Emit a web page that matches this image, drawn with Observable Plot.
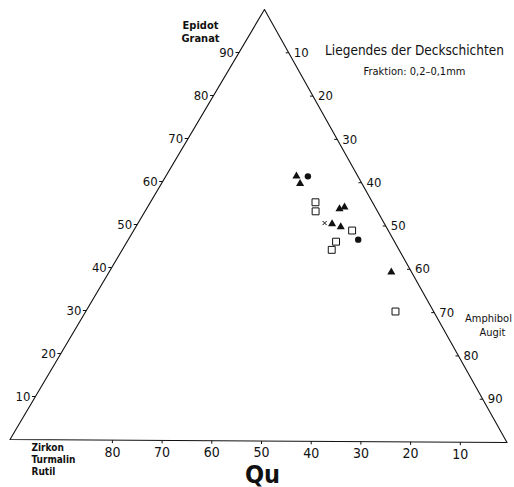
<!DOCTYPE html>
<html>
<head>
<meta charset="utf-8">
<script src="https://cdn.jsdelivr.net/npm/d3@7"></script>
<script src="https://cdn.jsdelivr.net/npm/@observablehq/plot@0.6"></script>
<style>
  html, body { margin: 0; padding: 0; background: #fff; }
  svg { display: block; }
</style>
</head>
<body>
<div id="chart"></div>
<script>
// ---- data (ternary percentages) ----
// T = Epidot/Granat (top), R = Amphibol/Augit (right), L = Zirkon/Turmalin/Rutil (left)
const sampleType = ["triangle","circle","triangle","square","square","triangle","triangle","cross",
                    "triangle","triangle","square","circle","square","square","triangle","square"];
const epidot   = [61.4, 61.4, 59.7, 55.4, 53.3, 53.9, 54.3, 50.6, 50.4, 49.7, 48.9, 46.8, 46.3, 44.4, 39.3, 30.2];
const amphibol = [26.2, 28.5, 27.8, 33.1, 34.2, 38.7, 39.5, 37.4, 39.0, 41.1, 43.8, 46.1, 41.9, 42.0, 56.6, 62.1];

const sideTicks   = [10, 20, 30, 40, 50, 60, 70, 80, 90];
const bottomTicks = [80, 70, 60, 50, 40, 30, 20, 10];

const vertexT = [100, 0, 0, 100];
const vertexR = [0, 0, 100, 0];

// ---- ternary projection (slight skew as in the drawing) ----
const px = (T, R) => R + 0.512 * T;
const py = (T, R) => T - 0.007 * R;

const samples = epidot.map((T, i) => ({ T, R: amphibol[i], type: sampleType[i] }));
const outline = vertexT.map((T, i) => ({ T, R: vertexR[i] }));

const font = "'DejaVu Sans Condensed', 'DejaVu Sans', sans-serif";
const narrow = "'Liberation Sans Narrow', 'DejaVu Sans Condensed', sans-serif";
const ink = "#111";

const pick = t => samples.filter(d => d.type === t);

const note = (label, dx, dy, opts = {}) =>
  Plot.text([label], { frameAnchor: "top-left", dx, dy, text: d => d, lineAnchor: "middle",
                       textAnchor: "middle", fontSize: 11, fill: ink, ...opts });

const chart = Plot.plot({
  width: 514,
  height: 487,
  margin: 0,
  style: { fontFamily: font, color: ink, background: "#fff" },
  x: { domain: [0, 100], range: [9.5, 506.5], axis: null },
  y: { domain: [0, 100], range: [439, 9], axis: null },
  marks: [
    // triangle outline
    Plot.line(outline, { x: d => px(d.T, d.R), y: d => py(d.T, d.R), stroke: ink, strokeWidth: 1.1 }),

    // left side ticks (Epidot / Granat)
    Plot.link(sideTicks, { x1: v => px(v, 0), y1: v => py(v, 0), x2: v => px(v, 0) - 0.7, y2: v => py(v, 0), stroke: ink, strokeWidth: 1 }),
    Plot.text(sideTicks, { x: v => px(v, 0), y: v => py(v, 0), text: d => String(d), textAnchor: "end", dx: -5, fontSize: 13, fill: ink }),

    // right side ticks (Amphibol / Augit)
    Plot.link(sideTicks, { x1: v => px(100 - v, v), y1: v => py(100 - v, v), x2: v => px(100 - v, v) - 0.6, y2: v => py(100 - v, v), stroke: ink, strokeWidth: 1 }),
    Plot.text(sideTicks, { x: v => px(100 - v, v), y: v => py(100 - v, v), text: d => String(d), textAnchor: "start", dx: 5, fontSize: 13, fill: ink }),

    // bottom ticks (Zirkon ...)
    Plot.link(bottomTicks, { x1: v => px(0, 100 - v), y1: v => py(0, 100 - v), x2: v => px(0, 100 - v), y2: v => py(0, 100 - v) - 0.7, stroke: ink, strokeWidth: 1, dx: 3 }),
    Plot.text(bottomTicks, { x: v => px(0, 100 - v), y: v => py(0, 100 - v), text: d => String(d), textAnchor: "middle", dx: 3, dy: 12, fontSize: 14, fill: ink }),

    // samples
    Plot.dot(pick("triangle"), { x: d => px(d.T, d.R), y: d => py(d.T, d.R), symbol: "triangle", r: 3, fill: ink, stroke: "none" }),
    Plot.dot(pick("circle"), { x: d => px(d.T, d.R), y: d => py(d.T, d.R), symbol: "circle", r: 3.2, fill: ink, stroke: "none" }),
    Plot.dot(pick("square"), { x: d => px(d.T, d.R), y: d => py(d.T, d.R), symbol: "square", r: 3.9, fill: "#fff", stroke: ink, strokeWidth: 1 }),
    Plot.dot(pick("cross"), { x: d => px(d.T, d.R), y: d => py(d.T, d.R), symbol: "times", r: 2, stroke: ink, strokeWidth: 1 }),

    // labels
    note("Epidot", 200, 25, { fontWeight: 600 }),
    note("Granat", 200, 38, { fontWeight: 600 }),
    note("Liegendes der Deckschichten", 414, 50, { fontSize: 13.5 }),
    note("Fraktion: 0,2–0,1mm", 414, 71, { fontSize: 11 }),
    note("Amphibol", 488, 318),
    note("Augit", 492, 332),
    note("Zirkon", 31, 447, { textAnchor: "start", fontWeight: "bold", fontSize: 10 }),
    note("Turmalin", 31, 459, { textAnchor: "start", fontWeight: "bold", fontSize: 10 }),
    note("Rutil", 31, 471, { textAnchor: "start", fontWeight: "bold", fontSize: 10 }),
    note("Qu", 262, 474, { fontSize: 25, fontWeight: "bold", fontFamily: narrow })
  ]
});

document.getElementById("chart").appendChild(chart);
</script>
</body>
</html>
